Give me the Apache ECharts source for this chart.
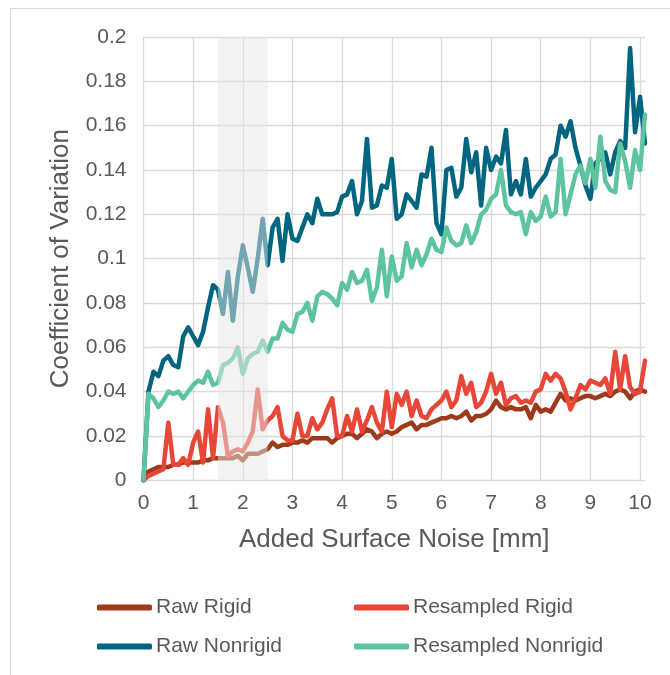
<!DOCTYPE html>
<html lang="en">
<head>
    <meta charset="UTF-8">
    <title>Coefficient of Variation</title>
    <script src="https://cdn.jsdelivr.net/npm/echarts@6/dist/echarts.min.js"></script>
    <style>
        html, body { margin: 0; padding: 0; background: #fff; }
    </style>
</head>
<body>
<div id="main" style="width: 670px;height:675px"></div>
<script>
    // noise levels 0 .. 10.1 mm, step 0.1
    var noise = [];
    for (var i = 0; i <= 101; i++) {
        noise.push(+(i / 10).toFixed(1));
    }

    var rawRigid = [
        0, 0.004, 0.005, 0.006, 0.006, 0.006, 0.007, 0.007, 0.008, 0.008,
        0.008, 0.008, 0.009, 0.009, 0.010, 0.010, 0.010, 0.010, 0.010, 0.011,
        0.009, 0.012, 0.012, 0.012, 0.013, 0.014, 0.017, 0.015, 0.016, 0.016,
        0.017, 0.017, 0.018, 0.017, 0.019, 0.019, 0.019, 0.019, 0.017, 0.019,
        0.020, 0.021, 0.021, 0.019, 0.021, 0.023, 0.022, 0.019, 0.021, 0.022,
        0.021, 0.022, 0.024, 0.025, 0.026, 0.023, 0.025, 0.025, 0.026, 0.027,
        0.028, 0.028, 0.029, 0.028, 0.029, 0.031, 0.027, 0.029, 0.029, 0.030,
        0.032, 0.036, 0.033, 0.032, 0.033, 0.032, 0.032, 0.033, 0.028, 0.034,
        0.031, 0.032, 0.031, 0.035, 0.039, 0.036, 0.037, 0.036, 0.037, 0.038,
        0.038, 0.037, 0.038, 0.039, 0.038, 0.040, 0.041, 0.040, 0.037, 0.040,
        0.041, 0.040
    ];

    var resampledRigid = [
        0, 0.002, 0.003, 0.004, 0.005, 0.026, 0.007, 0.007, 0.010, 0.007,
        0.017, 0.022, 0.008, 0.032, 0.010, 0.033, 0.026, 0.011, 0.013, 0.014,
        0.013, 0.017, 0.022, 0.041, 0.023, 0.027, 0.029, 0.033, 0.020, 0.018,
        0.018, 0.030, 0.020, 0.020, 0.028, 0.023, 0.026, 0.032, 0.037, 0.020,
        0.020, 0.029, 0.022, 0.032, 0.022, 0.027, 0.033, 0.026, 0.022, 0.040,
        0.024, 0.039, 0.034, 0.040, 0.029, 0.036, 0.029, 0.028, 0.032, 0.034,
        0.036, 0.040, 0.033, 0.036, 0.047, 0.039, 0.044, 0.033, 0.035, 0.040,
        0.048, 0.039, 0.044, 0.034, 0.037, 0.038, 0.035, 0.036, 0.035, 0.040,
        0.041, 0.048, 0.045, 0.048, 0.046, 0.040, 0.032, 0.037, 0.043, 0.041,
        0.045, 0.044, 0.043, 0.046, 0.039, 0.058, 0.041, 0.056, 0.042, 0.039,
        0.040, 0.054
    ];

    var rawNonrigid = [
        0, 0.040, 0.049, 0.047, 0.054, 0.056, 0.052, 0.051, 0.065, 0.069,
        0.065, 0.061, 0.067, 0.078, 0.088, 0.086, 0.075, 0.094, 0.072, 0.092,
        0.106, 0.096, 0.085, 0.100, 0.118, 0.097, 0.114, 0.118, 0.099, 0.120,
        0.109, 0.108, 0.114, 0.120, 0.116, 0.127, 0.120, 0.120, 0.120, 0.121,
        0.128, 0.129, 0.135, 0.120, 0.126, 0.154, 0.123, 0.124, 0.133, 0.132,
        0.145, 0.118, 0.120, 0.129, 0.126, 0.123, 0.138, 0.137, 0.150, 0.116,
        0.111, 0.140, 0.141, 0.128, 0.132, 0.154, 0.139, 0.148, 0.124, 0.150,
        0.140, 0.146, 0.143, 0.158, 0.129, 0.135, 0.129, 0.145, 0.128, 0.132,
        0.135, 0.138, 0.145, 0.147, 0.160, 0.155, 0.162, 0.150, 0.142, 0.133,
        0.127, 0.143, 0.145, 0.148, 0.138, 0.148, 0.153, 0.150, 0.195, 0.157,
        0.173, 0.152
    ];

    var resampledNonrigid = [
        0, 0.039, 0.037, 0.033, 0.036, 0.040, 0.039, 0.040, 0.037, 0.040,
        0.043, 0.045, 0.044, 0.049, 0.043, 0.044, 0.052, 0.053, 0.055, 0.060,
        0.048, 0.055, 0.057, 0.058, 0.063, 0.058, 0.064, 0.064, 0.071, 0.068,
        0.067, 0.075, 0.076, 0.080, 0.072, 0.083, 0.085, 0.084, 0.082, 0.079,
        0.089, 0.086, 0.094, 0.089, 0.090, 0.095, 0.081, 0.087, 0.104, 0.083,
        0.101, 0.090, 0.092, 0.107, 0.096, 0.104, 0.097, 0.102, 0.109, 0.104,
        0.103, 0.114, 0.108, 0.106, 0.107, 0.115, 0.107, 0.112, 0.120, 0.122,
        0.127, 0.129, 0.140, 0.124, 0.121, 0.120, 0.121, 0.111, 0.121, 0.117,
        0.119, 0.128, 0.119, 0.121, 0.145, 0.120, 0.129, 0.138, 0.142, 0.134,
        0.145, 0.132, 0.155, 0.135, 0.131, 0.130, 0.152, 0.144, 0.132, 0.149,
        0.140, 0.165
    ];

    // shaded noise range
    var band = [1.5, 2.5];

    var names = ['Raw Rigid', 'Resampled Rigid', 'Raw Nonrigid', 'Resampled Nonrigid'];
    var colors = ['#9c3b1c', '#e84636', '#00657f', '#5dc4a0'];
    var values = [rawRigid, resampledRigid, rawNonrigid, resampledNonrigid];

    var font = '"Liberation Sans", Arial, sans-serif';
    var textColor = '#595959';
    var gridColor = '#d9d9d9';

    function pairs(ys) {
        return ys.map(function (y, i) {
            return [noise[i], y];
        });
    }

    var series = values.map(function (ys, idx) {
        return {
            name: names[idx],
            type: 'line',
            data: pairs(ys),
            symbol: 'none',
            z: 2,
            lineStyle: {
                color: colors[idx],
                width: 4.5,
                cap: 'round',
                join: 'round'
            },
            itemStyle: { color: colors[idx] }
        };
    });

    // gray band drawn on its own layer, over the lines
    series.push({
        name: 'band',
        type: 'line',
        data: [],
        zlevel: 1,
        z: 10,
        markArea: {
            silent: true,
            z: 10,
            itemStyle: { color: 'rgba(229,229,229,0.5)' },
            data: [[{ xAxis: band[0] }, { xAxis: band[1] }]]
        }
    });

    var legendPos = [
        { left: 97, top: 597 },
        { left: 354, top: 597 },
        { left: 97, top: 636 },
        { left: 354, top: 636 }
    ];

    var legends = names.map(function (n, idx) {
        return {
            data: [n],
            left: legendPos[idx].left,
            top: legendPos[idx].top,
            padding: 0,
            icon: 'roundRect',
            itemWidth: 55,
            itemHeight: 6,
            itemGap: 0,
            selectedMode: false,
            textStyle: {
                color: textColor,
                fontSize: 21,
                fontFamily: font,
                padding: [0, 0, 0, -1]
            }
        };
    });

    var chart = echarts.init(document.getElementById('main'));
    var option = {
        animation: false,
        backgroundColor: '#fff',
        textStyle: { fontFamily: font },
        graphic: [{
            type: 'rect',
            shape: { x: 10.5, y: 8.5, width: 700, height: 700 },
            style: { fill: 'none', stroke: gridColor, lineWidth: 1 },
            silent: true
        }],
        legend: legends,
        grid: {
            left: 143.5,
            right: 25,
            top: 37,
            bottom: 194.7
        },
        xAxis: {
            type: 'value',
            min: 0,
            max: 10.1,
            interval: 1,
            name: 'Added Surface Noise [mm]',
            nameLocation: 'middle',
            nameGap: 47,
            nameTextStyle: { color: textColor, fontSize: 26, fontFamily: font },
            axisLine: { show: false },
            axisTick: { show: false },
            axisLabel: {
                color: textColor,
                fontSize: 21,
                fontFamily: font,
                margin: 12,
                showMaxLabel: false,
                formatter: function (v) {
                    return Math.abs(v - Math.round(v)) < 1e-6 ? String(Math.round(v)) : '';
                }
            },
            splitLine: {
                show: true,
                showMaxLine: false,
                lineStyle: { color: gridColor, width: 1.3 }
            }
        },
        yAxis: {
            type: 'value',
            min: 0,
            max: 0.2,
            interval: 0.02,
            name: 'Coefficient of Variation',
            nameLocation: 'middle',
            nameGap: 70,
            nameTextStyle: { color: textColor, fontSize: 26, fontFamily: font },
            axisLine: { show: false },
            axisTick: { show: false },
            axisLabel: {
                color: textColor,
                fontSize: 21,
                fontFamily: font,
                margin: 17,
                formatter: function (v) {
                    return String(+v.toFixed(2));
                }
            },
            splitLine: {
                show: true,
                lineStyle: { color: gridColor, width: 1.3 }
            }
        },
        series: series
    };
    chart.setOption(option);
</script>
</body>
</html>
